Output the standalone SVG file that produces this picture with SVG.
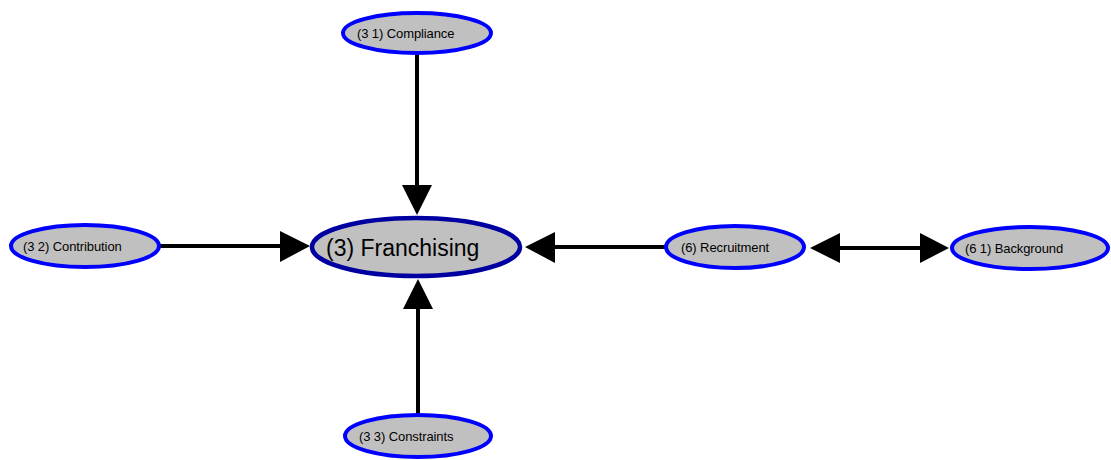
<svg xmlns="http://www.w3.org/2000/svg" width="1111" height="460" viewBox="0 0 1111 460">
  <style>
    .node ellipse { fill: #c0c0c0; stroke: #0000ff; stroke-width: 4; }
    .main ellipse { stroke: #0000a0; stroke-width: 4.5; }
    .node text { font-family: "Liberation Sans", Arial, sans-serif; font-size: 13px; fill: #000; letter-spacing: -0.1px; }
    .main text { font-size: 23px; letter-spacing: 0; }
    .edge { stroke: #000; stroke-width: 4; fill: none; }
    .head { fill: #000; }
  </style>
  <rect width="1111" height="460" fill="#fff"/>

  <g id="connectors">
    <!-- (3 1) Compliance -> (3) Franchising -->
    <line class="edge" x1="417" y1="55" x2="417" y2="188"/>
    <polygon class="head" points="402,185 432,185 417,215"/>
    <!-- (3 2) Contribution -> (3) Franchising -->
    <line class="edge" x1="160" y1="246" x2="283" y2="246"/>
    <polygon class="head" points="280,231 280,262 310,246"/>
    <!-- (3 3) Constraints -> (3) Franchising -->
    <line class="edge" x1="418" y1="414" x2="418" y2="306"/>
    <polygon class="head" points="403,309 433,309 418,279"/>
    <!-- (6) Recruitment -> (3) Franchising -->
    <line class="edge" x1="665" y1="247" x2="552" y2="247"/>
    <polygon class="head" points="555,232 555,263 525,247"/>
    <!-- (6) Recruitment <-> (6 1) Background -->
    <line class="edge" x1="837" y1="248" x2="923" y2="248"/>
    <polygon class="head" points="840,233 840,263 810,248"/>
    <polygon class="head" points="920,233 920,263 949,248"/>
  </g>

  <g id="n3" class="node main">
    <ellipse cx="416" cy="247" rx="104" ry="29"/>
    <text x="326" y="256">(3) Franchising</text>
  </g>
  <g id="n31" class="node">
    <ellipse cx="417" cy="33" rx="74" ry="20"/>
    <text x="357" y="38">(3 1) Compliance</text>
  </g>
  <g id="n32" class="node">
    <ellipse cx="85" cy="246" rx="74" ry="21"/>
    <text x="23" y="251">(3 2) Contribution</text>
  </g>
  <g id="n33" class="node">
    <ellipse cx="418" cy="436" rx="73" ry="21"/>
    <text x="359" y="441">(3 3) Constraints</text>
  </g>
  <g id="n6" class="node">
    <ellipse cx="735" cy="247" rx="69" ry="21"/>
    <text x="681" y="252">(6) Recruitment</text>
  </g>
  <g id="n61" class="node">
    <ellipse cx="1030" cy="248" rx="78" ry="21"/>
    <text x="965" y="253">(6 1) Background</text>
  </g>
</svg>
